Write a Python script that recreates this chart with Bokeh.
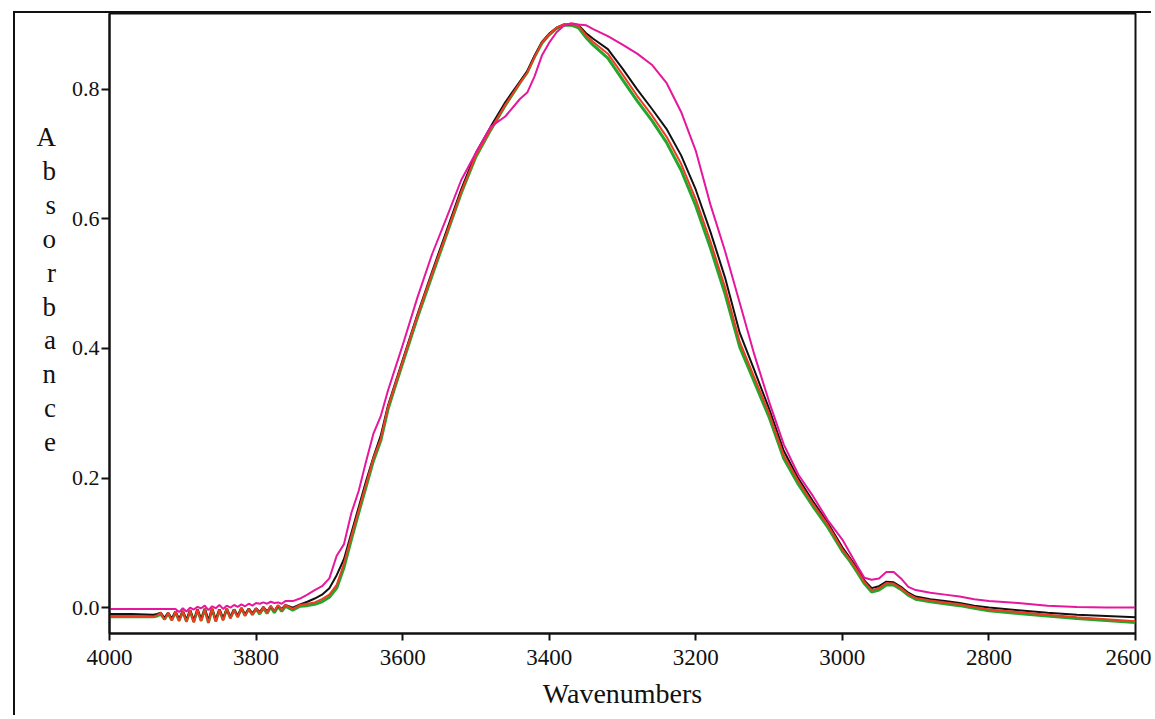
from bokeh.plotting import figure
from bokeh.models import Range1d, FixedTicker, NumeralTickFormatter
from bokeh.embed import file_html
from bokeh.resources import INLINE

wavenumber = [4000, 3970, 3940, 3935, 3930, 3925, 3920, 3915, 3910, 3905, 3900, 3895, 3890, 3885,
              3880, 3875, 3870, 3865, 3860, 3855, 3850, 3845, 3840, 3835, 3830, 3825, 3820, 3815,
              3810, 3805, 3800, 3795, 3790, 3785, 3780, 3775, 3770, 3765, 3760,
              3750, 3740, 3730, 3720, 3710, 3700, 3690, 3680, 3670, 3660, 3650, 3640, 3630, 3620,
              3610, 3600, 3580, 3560, 3540, 3520, 3500, 3480, 3460, 3440, 3430, 3420, 3410, 3400,
              3390, 3380, 3370, 3360, 3350, 3340, 3320, 3300, 3280, 3260, 3240, 3220, 3200, 3180,
              3160, 3140, 3120, 3100, 3080, 3060, 3040, 3020, 3000, 2990, 2980, 2970, 2960, 2950,
              2940, 2930, 2920, 2910, 2900, 2880, 2860, 2840, 2820, 2800, 2760, 2720, 2680, 2640, 2600]

green_abs = [-0.014, -0.014, -0.014, -0.013, -0.010, -0.018, -0.009, -0.019, -0.007, -0.020, -0.006, -0.021, -0.005, -0.022,
             -0.003, -0.020, -0.002, -0.023, -0.002, -0.021, -0.003, -0.019, -0.002, -0.016, -0.003, -0.014, -0.001, -0.012,
             -0.002, -0.011, -0.002, -0.010, -0.001, -0.009, 0.001, -0.008, 0.002, -0.006, 0.002,
             -0.004, 0.002, 0.003, 0.005, 0.009, 0.016, 0.030, 0.062, 0.105, 0.146, 0.186, 0.226, 0.257, 0.306,
             0.342, 0.377, 0.447, 0.512, 0.576, 0.640, 0.696, 0.737, 0.775, 0.810, 0.826, 0.850, 0.871, 0.884,
             0.894, 0.899, 0.899, 0.895, 0.880, 0.868, 0.848, 0.815, 0.782, 0.752, 0.718, 0.675, 0.620, 0.555,
             0.484, 0.402, 0.348, 0.294, 0.230, 0.190, 0.156, 0.124, 0.087, 0.072, 0.055, 0.037, 0.024, 0.027,
             0.035, 0.035, 0.028, 0.019, 0.013, 0.009, 0.006, 0.003, -0.001, -0.005, -0.009, -0.013, -0.017, -0.020, -0.023]

black_abs = [-0.010, -0.010, -0.011, -0.010, -0.008, -0.016, -0.008, -0.017, -0.006, -0.018, -0.005, -0.019, -0.004, -0.020,
             -0.003, -0.018, -0.002, -0.020, -0.002, -0.019, -0.003, -0.017, -0.002, -0.015, -0.003, -0.013, -0.001, -0.011,
             -0.002, -0.009, -0.001, -0.007, 0.001, -0.006, 0.002, -0.005, 0.003, -0.002, 0.004,
             0.000, 0.005, 0.009, 0.014, 0.020, 0.030, 0.050, 0.075, 0.115, 0.155, 0.195, 0.232, 0.265, 0.312,
             0.347, 0.382, 0.452, 0.518, 0.582, 0.646, 0.702, 0.742, 0.780, 0.812, 0.828, 0.852, 0.873, 0.886,
             0.895, 0.900, 0.900, 0.899, 0.887, 0.878, 0.862, 0.832, 0.800, 0.770, 0.739, 0.698, 0.645, 0.580,
             0.509, 0.424, 0.366, 0.307, 0.242, 0.199, 0.164, 0.131, 0.093, 0.077, 0.061, 0.042, 0.030, 0.033,
             0.040, 0.039, 0.032, 0.023, 0.017, 0.013, 0.010, 0.007, 0.003, 0.000, -0.004, -0.008, -0.011, -0.013, -0.015]

red_abs = [-0.013, -0.013, -0.014, -0.012, -0.008, -0.019, -0.008, -0.020, -0.006, -0.021, -0.005, -0.022, -0.004, -0.023,
           -0.003, -0.021, -0.002, -0.024, -0.001, -0.022, -0.003, -0.020, -0.001, -0.017, -0.003, -0.015, 0.000, -0.013,
           -0.002, -0.011, -0.001, -0.009, 0.001, -0.008, 0.003, -0.006, 0.004, -0.004, 0.004,
           -0.002, 0.004, 0.006, 0.008, 0.013, 0.020, 0.035, 0.068, 0.110, 0.150, 0.190, 0.230, 0.260, 0.310,
           0.345, 0.380, 0.450, 0.515, 0.578, 0.642, 0.698, 0.738, 0.776, 0.810, 0.826, 0.850, 0.872, 0.885,
           0.895, 0.900, 0.900, 0.898, 0.884, 0.873, 0.855, 0.823, 0.790, 0.760, 0.727, 0.685, 0.630, 0.565,
           0.494, 0.410, 0.355, 0.300, 0.235, 0.195, 0.160, 0.128, 0.090, 0.075, 0.058, 0.040, 0.027, 0.030,
           0.038, 0.037, 0.030, 0.021, 0.015, 0.011, 0.008, 0.005, 0.001, -0.003, -0.007, -0.011, -0.015, -0.018, -0.021]

magenta_abs = [-0.002, -0.002, -0.002, -0.002, -0.002, -0.002, -0.002, -0.002, -0.002, -0.007, -0.001, -0.006, 0.000, -0.003,
               0.001, -0.001, 0.003, -0.004, 0.002, -0.001, 0.004, -0.002, 0.003, 0.000, 0.004, 0.001, 0.005, 0.002,
               0.006, 0.003, 0.007, 0.006, 0.008, 0.006, 0.009, 0.007, 0.008, 0.006, 0.010,
               0.010, 0.014, 0.020, 0.027, 0.033, 0.045, 0.080, 0.098, 0.146, 0.180, 0.225, 0.268, 0.295, 0.335,
               0.370, 0.405, 0.478, 0.545, 0.602, 0.660, 0.702, 0.742, 0.758, 0.785, 0.795, 0.820, 0.852, 0.872,
               0.888, 0.898, 0.902, 0.900, 0.899, 0.893, 0.882, 0.869, 0.855, 0.838, 0.810, 0.765, 0.705, 0.622,
               0.550, 0.470, 0.390, 0.318, 0.252, 0.205, 0.172, 0.135, 0.105, 0.085, 0.065, 0.046, 0.043, 0.045,
               0.055, 0.055, 0.045, 0.032, 0.027, 0.023, 0.020, 0.017, 0.013, 0.010, 0.007, 0.003, 0.001, 0.000, 0.000]

x_ticks = [4000, 3800, 3600, 3400, 3200, 3000, 2800, 2600]
y_ticks = [0.0, 0.2, 0.4, 0.6, 0.8]
y_title = "A\nb\ns\no\nr\nb\na\nn\nc\ne\n \n "

FONT = "Liberation Serif"

p = figure(width=1138, height=704, output_backend="svg", toolbar_location=None,
           x_range=Range1d(4000, 2600), y_range=Range1d(-0.040, 0.917),
           min_border_left=94, min_border_right=18, min_border_top=0, min_border_bottom=84)
p.styles = {"margin-left": "13px", "margin-top": "11px",
            "border-left": "2px solid #111", "border-top": "2px solid #111"}

p.background_fill_color = "white"
p.border_fill_color = "white"
p.outline_line_color = "#111111"
p.outline_line_width = 2
p.grid.visible = False

for ax in (p.xaxis[0], p.yaxis[0]):
    ax.axis_line_color = "#111111"
    ax.axis_line_width = 2
    ax.major_tick_line_color = "#111111"
    ax.major_tick_line_width = 2
    ax.major_tick_in = 0
    ax.minor_tick_line_color = None
    ax.major_label_text_font = FONT
    ax.major_label_text_color = "#111111"
    ax.axis_label_text_font = FONT
    ax.axis_label_text_font_style = "normal"
    ax.axis_label_text_color = "#111111"

p.xaxis[0].ticker = FixedTicker(ticks=x_ticks)
p.xaxis[0].major_tick_out = 7
p.xaxis[0].major_label_standoff = 9
p.xaxis[0].major_label_text_font_size = "23px"
p.xaxis[0].axis_label = "Wavenumbers"
p.xaxis[0].axis_label_text_font_size = "28px"
p.xaxis[0].axis_label_standoff = 10

p.yaxis[0].ticker = FixedTicker(ticks=y_ticks)
p.yaxis[0].major_tick_out = 8
p.yaxis[0].major_label_standoff = 2
p.yaxis[0].major_label_text_font_size = "22px"
p.yaxis[0].formatter = NumeralTickFormatter(format="0.0")
p.yaxis[0].axis_label = y_title
p.yaxis[0].axis_label_orientation = "horizontal"
p.yaxis[0].axis_label_text_font_size = "27px"
p.yaxis[0].axis_label_text_line_height = 1.133
p.yaxis[0].axis_label_standoff = 13

p.line(wavenumber, green_abs, line_color="#22a62c", line_width=3)
p.line(wavenumber, black_abs, line_color="#111111", line_width=2)
p.line(wavenumber, red_abs, line_color="#f03c24", line_width=2)
p.line(wavenumber, magenta_abs, line_color="#e6179c", line_width=2)

open("out.html", "w").write(file_html(p, INLINE))
